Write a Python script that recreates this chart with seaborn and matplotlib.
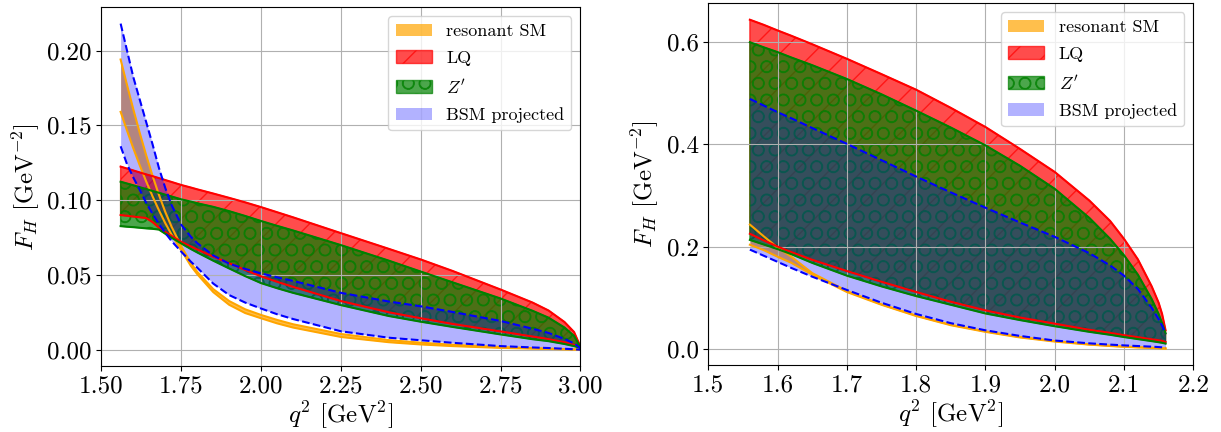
import numpy as np
import matplotlib
matplotlib.use("Agg")
import matplotlib.pyplot as plt
import seaborn as sns

plt.rcParams.update({
    "font.family": "serif",
    "font.serif": ["cmr10"],
    "mathtext.fontset": "cm",
    "axes.formatter.use_mathtext": True,
    "axes.unicode_minus": False,
    "axes.grid": True,
    "axes.axisbelow": "line",
    "grid.color": "#b0b0b0",
    "grid.linewidth": 0.8,
    "hatch.linewidth": 1.0,
})

# ---- left panel: q^2 in [1.56, 3.00] GeV^2 ----
q_left = [1.56, 1.58, 1.60, 1.62, 1.64, 1.66, 1.68, 1.70, 1.72, 1.75, 1.78, 1.80, 1.85, 1.90, 1.95,
          2.00, 2.05, 2.10, 2.25, 2.40, 2.50, 2.60, 2.75, 2.85, 2.90, 2.95, 2.98, 3.00]
sm_lo_left = [.1590, .1465, .1345, .1232, .1125, .1025, .0932, .0845, .0768, .0665, .0560, .0505, .0385, .0300, .0245,
              .0210, .0176, .0148, .0085, .0050, .0035, .0024, .0012, .0007, .0005, .0002, .0001, .0000]
sm_hi_left = [.1940, .1770, .1605, .1448, .1300, .1162, .1035, .0920, .0820, .0690, .0580, .0520, .0405, .0325, .0270,
              .0232, .0199, .0170, .0105, .0064, .0047, .0033, .0018, .0010, .0007, .0004, .0002, .0000]
lq_lo_left = [.0900, .0895, .0890, .0885, .0880, .0853, .0816, .0786, .0760, .0721, .0690, .0670, .0622, .0578, .0533,
              .0490, .0454, .0420, .0325, .0250, .0210, .0172, .0122, .0088, .0071, .0050, .0033, .0015]
lq_hi_left = [.1224, .1211, .1198, .1185, .1172, .1160, .1147, .1134, .1121, .1101, .1084, .1072, .1044, .1015, .0985,
              .0953, .0919, .0885, .0779, .0674, .0603, .0526, .0402, .0315, .0262, .0185, .0118, .0020]
zp_lo_left = [.0826, .0822, .0819, .0815, .0811, .0808, .0803, .0775, .0748, .0710, .0673, .0650, .0595, .0543, .0492,
              .0445, .0411, .0380, .0298, .0225, .0187, .0152, .0102, .0070, .0057, .0038, .0024, .0012]
zp_hi_left = [.1123, .1111, .1099, .1086, .1074, .1061, .1049, .1036, .1024, .1005, .0990, .0979, .0955, .0926, .0894,
              .0860, .0828, .0797, .0699, .0595, .0522, .0450, .0342, .0260, .0214, .0148, .0092, .0015]
bsm_lo_left = [.1360, .1240, .1150, .1068, .0982, .0908, .0840, .0780, .0725, .0655, .0588, .0548, .0442, .0365, .0315,
               .0275, .0237, .0205, .0123, .0080, .0063, .0046, .0024, .0015, .0011, .0006, .0003, .0000]
bsm_hi_left = [.2180, .2000, .1820, .1671, .1522, .1373, .1215, .1080, .0965, .0835, .0755, .0712, .0630, .0575, .0540,
               .0510, .0484, .0460, .0380, .0322, .0290, .0252, .0192, .0140, .0112, .0072, .0042, .0010]

# ---- right panel: q^2 in [1.56, 2.16] GeV^2 ----
q_right = [1.56, 1.58, 1.60, 1.62, 1.65, 1.70, 1.75, 1.80, 1.85, 1.90, 1.95, 2.00,
           2.05, 2.08, 2.10, 2.12, 2.14, 2.15, 2.155, 2.16]
sm_lo_right = [.2035, .1930, .1800, .1680, .1450, .1110, .0860, .0640, .0460, .0330, .0220, .0140,
               .0080, .0053, .0038, .0026, .0015, .0010, .0006, .0003]
sm_hi_right = [.2430, .2200, .1980, .1800, .1480, .1130, .0870, .0650, .0470, .0340, .0230, .0150,
               .0085, .0058, .0042, .0030, .0018, .0012, .0008, .0005]
lq_lo_right = [.2250, .2120, .2000, .1890, .1740, .1520, .1310, .1110, .0920, .0750, .0610, .0490,
               .0370, .0310, .0265, .0225, .0185, .0165, .0152, .0130]
lq_hi_right = [.6440, .6340, .6230, .6125, .5960, .5675, .5375, .5070, .4715, .4340, .3910, .3460,
               .2900, .2500, .2150, .1750, .1220, .0900, .0680, .0360]
zp_lo_right = [.2130, .2040, .1950, .1850, .1680, .1430, .1220, .1030, .0860, .0690, .0560, .0440,
               .0330, .0272, .0228, .0188, .0148, .0127, .0115, .0100]
zp_hi_right = [.6000, .5900, .5806, .5700, .5550, .5280, .4980, .4660, .4330, .3980, .3580, .3130,
               .2560, .2150, .1830, .1450, .0970, .0680, .0500, .0300]
bsm_lo_right = [.1940, .1820, .1700, .1580, .1410, .1150, .0900, .0680, .0500, .0360, .0250, .0160,
                .0105, .0080, .0065, .0052, .0040, .0032, .0027, .0020]
bsm_hi_right = [.4890, .4760, .4630, .4510, .4320, .4010, .3690, .3370, .3060, .2760, .2470, .2190,
                .1870, .1630, .1430, .1170, .0800, .0580, .0450, .0300]

labels = ["resonant SM", "LQ", r"$Z'$", "BSM projected"]
x_ticks_left = [1.50, 1.75, 2.00, 2.25, 2.50, 2.75, 3.00]
x_ticks_right = [1.5, 1.6, 1.7, 1.8, 1.9, 2.0, 2.1, 2.2]

FS = 18


def draw_panel(ax, q, sm, lq, zp, bsm, xlim, xticks):
    q = np.asarray(q)
    # resonant SM band
    ax.fill_between(q, sm[0], sm[1], color="orange", alpha=0.7, lw=0, label=labels[0])
    for b in sm:
        sns.lineplot(x=q, y=np.asarray(b), ax=ax, color="orange", lw=1.5)
    # leptoquark band
    ax.fill_between(q, lq[0], lq[1], facecolor="red", edgecolor="red", hatch="/",
                    alpha=0.7, lw=1.0, label=labels[1])
    for b in lq:
        sns.lineplot(x=q, y=np.asarray(b), ax=ax, color="red", lw=1.5)
    # Z' band
    ax.fill_between(q, zp[0], zp[1], facecolor="green", edgecolor="green", hatch="O",
                    alpha=0.7, lw=1.0, label=labels[2])
    for b in zp:
        sns.lineplot(x=q, y=np.asarray(b), ax=ax, color="green", lw=1.5)
    # projected BSM band
    ax.fill_between(q, bsm[0], bsm[1], color="blue", alpha=0.3, lw=0, label=labels[3])
    for b in bsm:
        sns.lineplot(x=q, y=np.asarray(b), ax=ax, color="blue", lw=1.5, linestyle="--")

    ax.set_xlim(*xlim)
    ax.set_xticks(xticks)
    ax.set_xlabel(r"$q^2$ [GeV$^2$]", fontsize=FS, labelpad=1)
    ax.set_ylabel(r"$F_H$ [GeV$^{-2}$]", fontsize=FS)
    ax.tick_params(labelsize=FS)
    ax.grid(True)
    ax.legend(loc="upper right", fontsize=13, labelspacing=0.62)


fig = plt.figure(figsize=(12.21, 4.32), dpi=100)
ax1 = fig.add_axes([0.0831, 0.1528, 0.3923, 0.8303])
ax2 = fig.add_axes([0.5801, 0.1551, 0.3972, 0.8373])

draw_panel(ax1, q_left, (sm_lo_left, sm_hi_left), (lq_lo_left, lq_hi_left),
           (zp_lo_left, zp_hi_left), (bsm_lo_left, bsm_hi_left), (1.5, 3.0), x_ticks_left)
ax1.yaxis.set_major_formatter(matplotlib.ticker.FormatStrFormatter("%.2f"))
ax1.xaxis.set_major_formatter(matplotlib.ticker.FormatStrFormatter("%.2f"))

draw_panel(ax2, q_right, (sm_lo_right, sm_hi_right), (lq_lo_right, lq_hi_right),
           (zp_lo_right, zp_hi_right), (bsm_lo_right, bsm_hi_right), (1.5, 2.2), x_ticks_right)
ax2.yaxis.set_major_formatter(matplotlib.ticker.FormatStrFormatter("%.1f"))
ax2.xaxis.set_major_formatter(matplotlib.ticker.FormatStrFormatter("%.1f"))

fig.savefig("out.png", dpi=100)
